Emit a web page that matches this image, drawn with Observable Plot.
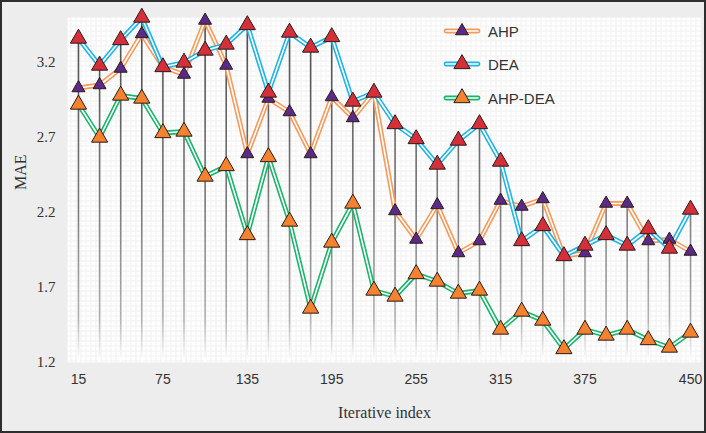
<!DOCTYPE html>
<html><head><meta charset="utf-8">
<script src="https://cdn.jsdelivr.net/npm/d3@7"></script>
<script src="https://cdn.jsdelivr.net/npm/@observablehq/plot@0.6"></script>
<style>
html,body{margin:0;padding:0;background:#ededed;}
#wrap{position:relative;width:706px;height:433px;overflow:hidden;background:#ededed;}
#border{position:absolute;left:0;top:0;width:706px;height:433px;box-sizing:border-box;border:2px solid #2e2e2e;pointer-events:none;}
.leg{position:absolute;left:445px;height:18px;display:flex;align-items:center;font-family:"Liberation Sans",Arial,sans-serif;font-size:15px;color:#333;}
.leg svg{margin-right:9px;overflow:visible}
</style></head><body>
<div id="wrap"><div id="chart"></div><div id="legend"></div><div id="border"></div></div>
<script>
// Iterative index (x categories)
const iterations = [15,30,45,60,75,90,105,120,135,150,165,180,195,210,225,240,255,270,285,300,315,330,345,360,375,390,405,420,435,450];
// MAE values per method
const ahp    = [3.03,3.05,3.16,3.39,3.17,3.12,3.48,3.18,2.59,2.96,2.87,2.59,2.97,2.83,3.00,2.21,2.02,2.25,1.93,2.01,2.28,2.24,2.29,1.91,1.93,2.26,2.26,2.01,2.02,1.94];
const dea    = [3.36,3.18,3.35,3.50,3.17,3.20,3.28,3.32,3.45,3.00,3.40,3.30,3.37,2.94,3.00,2.79,2.69,2.52,2.68,2.79,2.54,2.01,2.11,1.91,1.98,2.05,1.98,2.09,1.96,2.22];
const ahpDea = [2.92,2.70,2.98,2.96,2.73,2.74,2.44,2.51,2.05,2.57,2.14,1.56,2.00,2.26,1.68,1.64,1.79,1.74,1.66,1.68,1.42,1.54,1.48,1.29,1.42,1.38,1.42,1.35,1.30,1.40];
// Axis ticks
const xTicks = [15,75,135,195,255,315,375,450];
const yTicks = [1.2,1.7,2.2,2.7,3.2];
const yDomain = [1.2, 3.5];
const xDomain = [7.2, 457.8];

const seriesNames = ["AHP","DEA","AHP-DEA"];
const seriesValues = {"AHP": ahp, "DEA": dea, "AHP-DEA": ahpDea};
const style = {
  "AHP":     {line:"#F7995A", fill:"#5B2A86", r:4.8},
  "DEA":     {line:"#1FB4E6", fill:"#D5303A", r:6},
  "AHP-DEA": {line:"#1BB46C", fill:"#F5822E", r:6}
};

const rowsOf = name => iterations.map((x,i) => ({series:name, x, y:seriesValues[name][i]}));
const tops = iterations.map((x,i) => ({x, y: Math.max(ahp[i], dea[i], ahpDea[i])}));

const lineMarks = name => [
  Plot.line(rowsOf(name), {x:"x", y:"y", stroke:style[name].line, strokeWidth:4.8}),
  Plot.line(rowsOf(name), {x:"x", y:"y", stroke:"white", strokeWidth:1.6})
];
const dotMarks = name => Plot.dot(rowsOf(name), {x:"x", y:"y", symbol:"triangle", r:style[name].r, fill:style[name].fill, stroke:"#2a1a1a", strokeWidth:1});

const chart = Plot.plot({
  width: 706, height: 433,
  marginLeft: 67, marginRight: 5, marginTop: 17, marginBottom: 71,
  style: {background: "transparent", overflow: "visible"},
  x: {domain: xDomain},
  y: {domain: yDomain},
  marks: [
    Plot.frame({fill: "url(#gridpat)", stroke: "none"}),
    Plot.ruleX(tops, {x:"x", y1: yDomain[0], y2:"y", stroke:"url(#vfade)", strokeWidth:1.6}),
    ...lineMarks("AHP-DEA"),
    ...lineMarks("AHP"),
    ...lineMarks("DEA"),
    dotMarks("AHP"),
    dotMarks("DEA"),
    dotMarks("AHP-DEA"),
    Plot.axisX({ticks: xTicks, tickSize: 0, tickPadding: 12, tickFormat: d => String(d), label: null,
      fontFamily: "Liberation Sans, Arial, sans-serif", fontSize: 14, fill: "#333"}),
    Plot.axisY({ticks: yTicks, tickSize: 0, tickPadding: 12, tickFormat: d => d.toFixed(1), label: null,
      fontFamily: "Liberation Serif, Times New Roman, serif", fontSize: 15, fill: "#333"}),
    Plot.text(["Iterative index"], {frameAnchor: "bottom", dy: 55, fontFamily: "Liberation Serif, Times New Roman, serif", fontSize: 16, fill: "#333"}),
    Plot.text(["MAE"], {frameAnchor: "left", dx: -47, rotate: -90, fontFamily: "Liberation Serif, Times New Roman, serif", fontSize: 16, fill: "#333"})
  ]
});

const defs = document.createElementNS("http://www.w3.org/2000/svg", "defs");
defs.innerHTML = `
<linearGradient id="vfade" gradientUnits="userSpaceOnUse" x1="0" y1="17" x2="0" y2="360">
  <stop offset="0" stop-color="#4a4a4a"/>
  <stop offset="0.55" stop-color="#7a7a7a"/>
  <stop offset="0.88" stop-color="#b0b0b0"/>
  <stop offset="1" stop-color="#ffffff"/>
</linearGradient>
<pattern id="gridpat" patternUnits="userSpaceOnUse" width="5" height="5">
  <rect width="5" height="5" fill="#ffffff"/>
  <path d="M0 0.5H5M0.5 0V5" stroke="#f1f1f1" stroke-width="1"/>
</pattern>`;
chart.insertBefore(defs, chart.firstChild);
document.getElementById("chart").appendChild(chart);

// Legend
const legend = document.getElementById("legend");
const legendCenters = {"AHP": 31, "DEA": 64, "AHP-DEA": 98};
for (const name of seriesNames) {
  const s = style[name];
  const div = document.createElement("div");
  div.className = "leg";
  div.style.top = (legendCenters[name] - 9) + "px";
  const tri = d3.symbol(d3.symbolTriangle, s.r * s.r * Math.PI)();
  div.innerHTML = `<svg width="34" height="18" viewBox="0 0 34 18">
    <line x1="1" y1="9" x2="33" y2="9" stroke="${s.line}" stroke-width="4.8" stroke-linecap="round"/>
    <line x1="1" y1="9" x2="33" y2="9" stroke="white" stroke-width="1.6" stroke-linecap="round"/>
    <path d="${tri}" transform="translate(17,9)" fill="${s.fill}" stroke="#2a1a1a" stroke-width="1"/>
  </svg><span>${name}</span>`;
  legend.appendChild(div);
}
</script>
</body></html>
